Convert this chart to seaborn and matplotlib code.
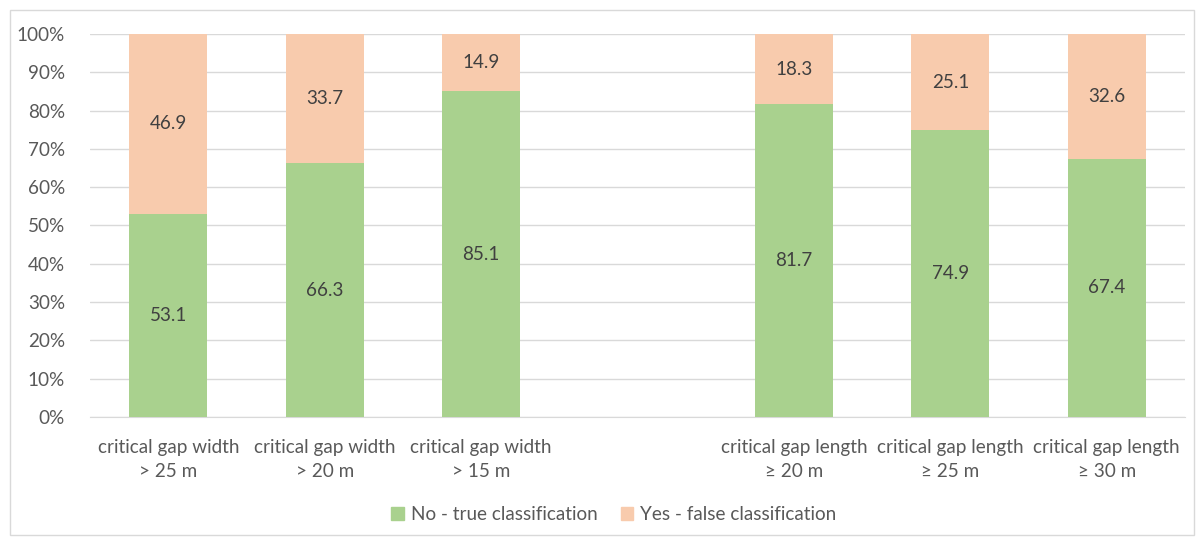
import pandas as pd
import numpy as np
import matplotlib.pyplot as plt
import seaborn as sns
from matplotlib.patches import Patch, Rectangle

# values
categories = ["critical gap width\n> 25 m", "critical gap width\n> 20 m", "critical gap width\n> 15 m",
              " ",
              "critical gap length\n\u2265 20 m", "critical gap length\n\u2265 25 m", "critical gap length\n\u2265 30 m"]
no_true = [53.1, 66.3, 85.1, np.nan, 81.7, 74.9, 67.4]
yes_false = [46.9, 33.7, 14.9, np.nan, 18.3, 25.1, 32.6]

green = "#A9D18E"
peach = "#F8CBAD"
txt = "#595959"
fs = 13.6

sns.set_style("white")
plt.rcParams['font.family'] = ['Lato', 'DejaVu Sans']

df = pd.DataFrame({"cat": categories, "no": no_true, "yes": yes_false})
df["total"] = df["no"] + df["yes"]

fig = plt.figure(figsize=(12.04, 5.42), dpi=100)
ax = fig.add_axes([0.0748, 0.2306, 0.9094, 0.7067])

sns.barplot(data=df, x="cat", y="total", order=categories, color=peach, width=0.5,
            saturation=1, linewidth=0, ax=ax, zorder=2)
sns.barplot(data=df, x="cat", y="no", order=categories, color=green, width=0.5,
            saturation=1, linewidth=0, ax=ax, zorder=3)

for i, (n, y) in enumerate(zip(no_true, yes_false)):
    if np.isnan(n):
        continue
    ax.text(i, n / 2, f"{n:.1f}", ha="center", va="center", color="#404040", fontsize=fs, zorder=4)
    ax.text(i, n + y / 2, f"{y:.1f}", ha="center", va="center", color="#404040", fontsize=fs, zorder=4)

ax.set_ylim(0, 100)
ax.set_xlim(-0.5, 6.5)
ax.set_yticks(range(0, 101, 10))
ax.set_yticklabels([f"{v}%" for v in range(0, 101, 10)])
ax.yaxis.grid(True, color="#D9D9D9", linewidth=1, zorder=0)
ax.set_axisbelow(True)
ax.set_xlabel("")
ax.set_ylabel("")
for s in ["top", "right", "left"]:
    ax.spines[s].set_visible(False)
ax.spines["bottom"].set_color("#D9D9D9")
ax.tick_params(axis="both", length=0, colors=txt, labelsize=fs)
ax.tick_params(axis="y", pad=18)
ax.tick_params(axis="x", pad=16)
for lab in ax.get_xticklabels():
    lab.set_linespacing(1.45)

handles = [Patch(color=green, label="No - true classification"),
           Patch(color=peach, label="Yes - false classification")]
fig.legend(handles=handles, loc="center", bbox_to_anchor=(0.51, 0.05), ncol=2, frameon=False,
           fontsize=fs, labelcolor=txt, handlelength=0.65, handleheight=0.65,
           handletextpad=0.4, columnspacing=1.2)

fig.patches.append(Rectangle((0.008, 0.012), 0.984, 0.97, transform=fig.transFigure,
                             fill=False, edgecolor="#D9D9D9", linewidth=1))

fig.savefig("out.png", dpi=100)
